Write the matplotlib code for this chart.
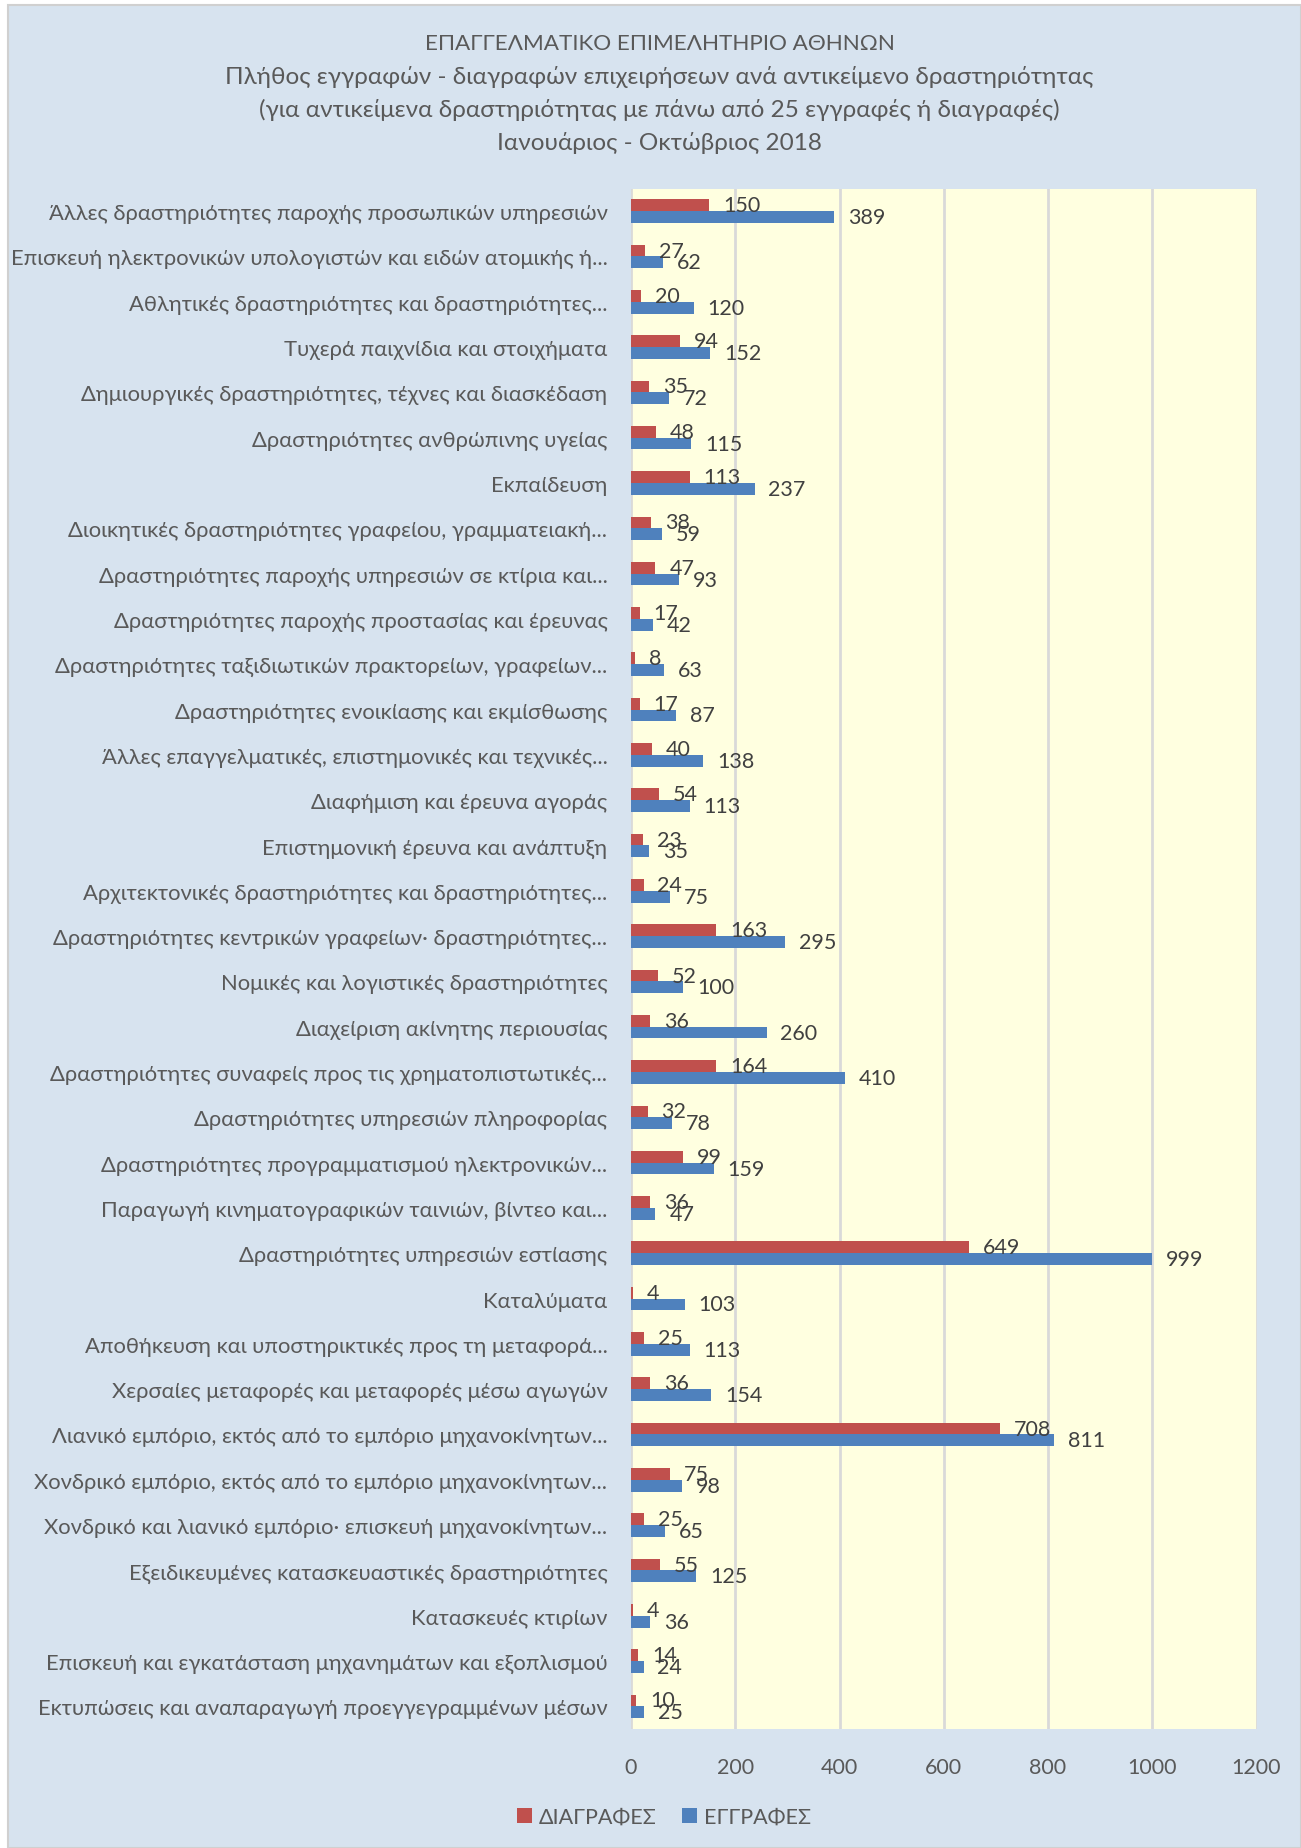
import matplotlib
matplotlib.use("Agg")
import matplotlib.pyplot as plt
import numpy as np
from matplotlib.patches import Rectangle

plt.rcParams['font.family'] = ['Lato', 'DejaVu Sans']

# data (top to bottom as in the chart)
categories = [
    "Άλλες δραστηριότητες παροχής προσωπικών υπηρεσιών",
    "Επισκευή ηλεκτρονικών υπολογιστών και ειδών ατομικής ή...",
    "Αθλητικές δραστηριότητες και δραστηριότητες...",
    "Τυχερά παιχνίδια και στοιχήματα",
    "Δημιουργικές δραστηριότητες, τέχνες και διασκέδαση",
    "Δραστηριότητες ανθρώπινης υγείας",
    "Εκπαίδευση",
    "Διοικητικές δραστηριότητες γραφείου, γραμματειακή...",
    "Δραστηριότητες παροχής υπηρεσιών σε κτίρια και...",
    "Δραστηριότητες παροχής προστασίας και έρευνας",
    "Δραστηριότητες ταξιδιωτικών πρακτορείων, γραφείων...",
    "Δραστηριότητες ενοικίασης και εκμίσθωσης",
    "Άλλες επαγγελματικές, επιστημονικές και τεχνικές...",
    "Διαφήμιση και έρευνα αγοράς",
    "Επιστημονική έρευνα και ανάπτυξη",
    "Αρχιτεκτονικές δραστηριότητες και δραστηριότητες...",
    "Δραστηριότητες κεντρικών γραφείων· δραστηριότητες...",
    "Νομικές και λογιστικές δραστηριότητες",
    "Διαχείριση ακίνητης περιουσίας",
    "Δραστηριότητες συναφείς προς τις χρηματοπιστωτικές...",
    "Δραστηριότητες υπηρεσιών πληροφορίας",
    "Δραστηριότητες προγραμματισμού ηλεκτρονικών...",
    "Παραγωγή κινηματογραφικών ταινιών, βίντεο και...",
    "Δραστηριότητες υπηρεσιών εστίασης",
    "Καταλύματα",
    "Αποθήκευση και υποστηρικτικές προς τη μεταφορά...",
    "Χερσαίες μεταφορές και μεταφορές μέσω αγωγών",
    "Λιανικό εμπόριο, εκτός από το εμπόριο μηχανοκίνητων...",
    "Χονδρικό εμπόριο, εκτός από το εμπόριο μηχανοκίνητων...",
    "Χονδρικό και λιανικό εμπόριο· επισκευή μηχανοκίνητων...",
    "Εξειδικευμένες κατασκευαστικές δραστηριότητες",
    "Κατασκευές κτιρίων",
    "Επισκευή και εγκατάσταση μηχανημάτων και εξοπλισμού",
    "Εκτυπώσεις και αναπαραγωγή προεγγεγραμμένων μέσων",
]
diagrafes = [150, 27, 20, 94, 35, 48, 113, 38, 47, 17, 8, 17, 40, 54, 23, 24,
             163, 52, 36, 164, 32, 99, 36, 649, 4, 25, 36, 708, 75, 25, 55, 4, 14, 10]
eggrafes = [389, 62, 120, 152, 72, 115, 237, 59, 93, 42, 63, 87, 138, 113, 35, 75,
            295, 100, 260, 410, 78, 159, 47, 999, 103, 113, 154, 811, 98, 65, 125, 36, 24, 25]
x_ticks = [0, 200, 400, 600, 800, 1000, 1200]
title_lines = [
    "ΕΠΑΓΓΕΛΜΑΤΙΚΟ ΕΠΙΜΕΛΗΤΗΡΙΟ ΑΘΗΝΩΝ",
    "Πλήθος εγγραφών - διαγραφών επιχειρήσεων ανά αντικείμενο δραστηριότητας",
    "(για αντικείμενα δραστηριότητας με πάνω από 25 εγγραφές ή διαγραφές)",
    "Ιανουάριος - Οκτώβριος 2018",
]

RED = "#C0504D"
BLUE = "#4F81BD"
BG = "#D7E3EF"
PLOT_BG = "#FFFFE0"
TXT = "#595959"
LBL = "#404040"

W, H = 1301, 1849
fig = plt.figure(figsize=(W / 100, H / 100), dpi=100, facecolor="white")

# outer chart box
fig.patches.append(Rectangle((8 / W, 0), 1 - 8 / W, 1 - 6 / H, transform=fig.transFigure,
                             facecolor=BG, edgecolor="#D0D0D0", linewidth=1.5, zorder=-10))

ax = fig.add_axes([631 / W, 1 - 1730 / H, 625.5 / W, (1730 - 189.5) / H])
ax.set_facecolor(PLOT_BG)

y = np.arange(len(categories))
h = 0.26
ax.barh(y - h / 2, diagrafes, height=h, color=RED, label="ΔΙΑΓΡΑΦΕΣ", zorder=3)
ax.barh(y + h / 2, eggrafes, height=h, color=BLUE, label="ΕΓΓΡΑΦΕΣ", zorder=3)

for yi, v in zip(y, diagrafes):
    ax.annotate(str(v), (v, yi - h / 2), xytext=(10, 0), textcoords="offset points",
                va="center", ha="left", fontsize=15.5, color=LBL, zorder=4)
for yi, v in zip(y, eggrafes):
    ax.annotate(str(v), (v, yi + h / 2), xytext=(10, 0), textcoords="offset points",
                va="center", ha="left", fontsize=15.5, color=LBL, zorder=4)

ax.set_xlim(0, 1200)
ax.set_ylim(len(categories) - 0.5, -0.5)
ax.set_xticks(x_ticks)
ax.set_yticks(y)
ax.set_yticklabels(categories)
ax.tick_params(axis="y", length=0, pad=17, labelsize=15.8, labelcolor=TXT)
ax.tick_params(axis="x", length=0, pad=20, labelsize=15.5, labelcolor=TXT)
ax.xaxis.grid(True, color="#D9D9D9", linewidth=2, zorder=1)
ax.set_axisbelow(True)
for s in ax.spines.values():
    s.set_visible(False)

title_sizes = [16.2, 17.5, 17.5, 17.5]
for i, line in enumerate(title_lines):
    fig.text(0.507, 1 - (44 + 33 * i) / H, line, ha="center", va="center",
             fontsize=title_sizes[i], color=TXT)

fig.legend(loc="center", bbox_to_anchor=(664 / W, 1 - 1818 / H), ncol=2, frameon=False,
           fontsize=15.5, labelcolor=TXT, handlelength=0.7, handleheight=0.7,
           handletextpad=0.3, columnspacing=1.2)

fig.savefig("out.png", dpi=100, facecolor=fig.get_facecolor())
